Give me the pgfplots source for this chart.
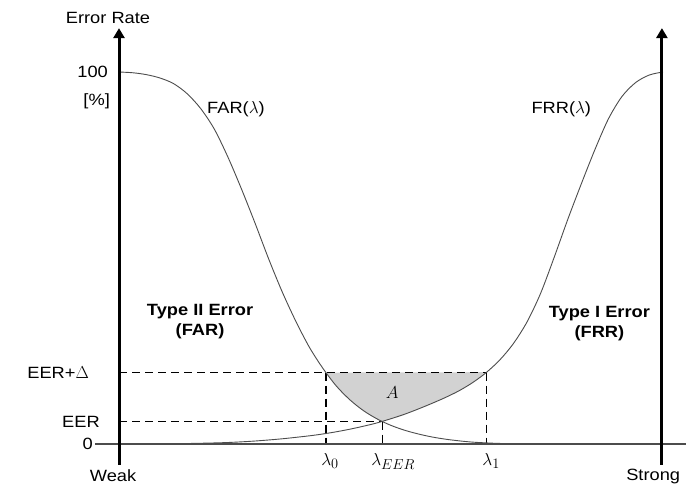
\documentclass[border=0pt]{standalone}
\usepackage{fontspec}
\setmainfont{Liberation Sans}[FakeStretch=1.12]
\usepackage{pgfplots}
\pgfplotsset{compat=1.18}
\usetikzlibrary{arrows.meta}
\begin{document}
\begin{tikzpicture}[font=\fontsize{16.3}{19}\selectfont]
\begin{axis}[scale only axis, width=691pt, height=486pt,
  xmin=-0.21875, xmax=1.05147, ymin=-11.29, ymax=119.355,
  hide axis, clip=false]
\path (axis cs:-0.21875,-11.29) rectangle (axis cs:1.05147,119.355);
% shaded area A
\addplot[fill=gray!35, draw=none] coordinates {
 (0.3805,19.2) (0.4,15.5) (0.425,11.8) (0.45,8.9) (0.475,6.7) (0.484,6.1) (0.5,6.8) (0.525,8.0) (0.55,9.4) (0.575,10.9) (0.6,12.5) (0.625,14.3) (0.65,16.5) (0.676,19.3)} -- cycle;
% dashed guides
\addplot[black, line width=1.3pt, dash pattern=on 8pt off 5pt] coordinates {(0,19.2) (0.676,19.2)};
\addplot[black, line width=1.3pt, dash pattern=on 8pt off 5pt] coordinates {(0,6.0) (0.484,6.0)};
\addplot[black, line width=1.3pt, dash pattern=on 8pt off 5pt] coordinates {(0.3805,19.2) (0.3805,0)};
\addplot[black, line width=1.3pt, dash pattern=on 8pt off 5pt] coordinates {(0.484,6.0) (0.484,0)};
\addplot[black, line width=1.3pt, dash pattern=on 8pt off 5pt] coordinates {(0.676,19.2) (0.676,0)};
% baseline
\addplot[black!70, line width=2.5pt] coordinates {(-0.044,0) (1.042,0)};
% FAR
\addplot[black!70, line width=0.9pt, smooth] coordinates {
 (0,100) (0.025,99.8) (0.05,99.3) (0.075,98.4) (0.1,96.9) (0.125,94.2) (0.15,90.2) (0.175,84.7) (0.2,77.2) (0.225,68.6) (0.25,59.4) (0.275,49.8) (0.3,40.9) (0.325,33.0) (0.35,26.0) (0.375,20.3) (0.4,15.5) (0.425,11.8) (0.45,8.9) (0.475,6.7) (0.5,5.0) (0.525,3.7) (0.55,2.7) (0.575,1.9) (0.6,1.3) (0.625,0.85) (0.65,0.5) (0.675,0.3) (0.7,0.15) (0.75,0.03) (0.8,0) (0.9,0) (1,0)};
% FRR
\addplot[black!70, line width=0.9pt, smooth] coordinates {
 (0,0) (0.1,0.08) (0.15,0.2) (0.2,0.4) (0.25,0.8) (0.3,1.4) (0.35,2.2) (0.375,2.7) (0.4,3.3) (0.425,4.0) (0.45,4.8) (0.475,5.7) (0.5,6.8) (0.525,8.0) (0.55,9.4) (0.575,10.9) (0.6,12.5) (0.625,14.3) (0.65,16.5) (0.675,19.2) (0.7,22.6) (0.725,27.0) (0.75,32.8) (0.775,40.5) (0.8,50.2) (0.825,60.4) (0.85,70.0) (0.875,79.2) (0.9,87.5) (0.925,93.5) (0.95,97.2) (0.975,99.2) (1,100)};
% axes
\draw[line width=3pt, -{Triangle[length=10pt,width=11pt]}] (axis cs:0,-5.6) -- (axis cs:0,111.8);
\draw[line width=3pt, -{Triangle[length=10pt,width=11pt]}] (axis cs:0.998,-5.6) -- (axis cs:0.998,111.8);
% labels
\node at (axis cs:-0.0202,114.5) {Error Rate};
\node[anchor=east, inner sep=0pt] at (axis cs:-0.0202,100) {100};
\node[anchor=east, inner sep=0pt] at (axis cs:-0.0165,92.2) {[\%]};
\node[anchor=east, inner sep=0pt] at (axis cs:-0.055,19.2) {EER+$\Delta$};
\node[anchor=east, inner sep=0pt] at (axis cs:-0.035,6.0) {EER};
\node[anchor=east, inner sep=0pt] at (axis cs:-0.048,0) {0};
\node at (axis cs:-0.011,-8.6) {Weak};
\node at (axis cs:0.982,-8.8) {Strong};
\node at (axis cs:0.215,90.0) {FAR($\lambda$)};
\node at (axis cs:0.813,90.0) {FRR($\lambda$)};
\node[align=center, font=\fontsize{16.3}{20}\selectfont\bfseries] at (axis cs:0.149,32.8) {Type II Error\\(FAR)};
\node[align=center, font=\fontsize{16.3}{20}\selectfont\bfseries] at (axis cs:0.883,32.5) {Type I Error\\(FRR)};
\node at (axis cs:0.502,13.7) {$A$};
\node[font=\fontsize{19}{22}\selectfont] at (axis cs:0.388,-4.6) {$\lambda_0$};
\node[font=\fontsize{19}{22}\selectfont] at (axis cs:0.504,-4.6) {$\lambda_{EER}$};
\node[font=\fontsize{19}{22}\selectfont] at (axis cs:0.684,-4.6) {$\lambda_1$};
\end{axis}
\end{tikzpicture}
\end{document}
